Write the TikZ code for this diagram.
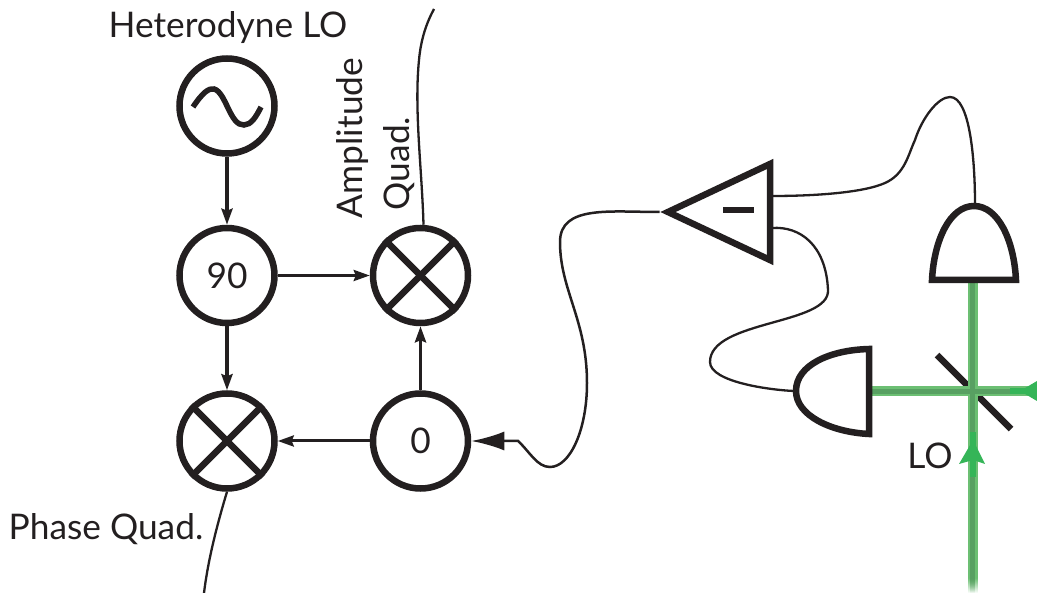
\documentclass[tikz,border=0pt]{standalone}
\usepackage{fontspec}
\setmainfont{Lato}
\usetikzlibrary{shapes.geometric, positioning, arrows.meta, fadings}
\definecolor{ink}{HTML}{231F20}
\definecolor{beamlight}{HTML}{6CBF73}
\definecolor{beamcore}{HTML}{58A062}
\definecolor{beampump}{HTML}{35B558}
\tikzset{
  block/.style={circle, minimum size=95pt, inner sep=0pt, draw=ink, line width=6.5pt, text=ink},
  heavy/.style={draw=ink, line width=6.5pt},
  wire/.style={draw=ink, line width=2.3pt},
  arrow/.style={draw=ink, line width=3.6pt, -{Stealth[length=16pt, width=11pt, inset=2pt]}},
  bigarrow/.style={draw=ink, line width=2.5pt, -{Latex[length=33pt, width=19pt]}},
  label/.style={text=ink, inner sep=0pt}
}
\begin{document}
\begin{tikzpicture}[
        x=1pt, y=-1pt,
        node distance=68pt and 92pt,
        every node/.style={font=\fontsize{35.3}{47}\selectfont}
    ]
        \useasboundingbox (0,0) rectangle (1037,593);

        \node (osc) [block] at (227,106) {};
        \node (ninety) [block, below=of osc] {90};
        \node (phasemix) [block, below=64pt of ninety] {};
        \node (ampmix) [block, right=of ninety] {};
        \node (zero) [block, right=of phasemix] {0};
        \node (title) [label] at (228,28) {Heterodyne LO};
        \node (ampquad) [label, rotate=90, align=left] at (376,138) {Amplitude\\\hspace*{8pt}Quad.};
        \node (phasequad) [label] at (106,529) {Phase Quad.};
        \node (lo) [label] at (930,456) {LO};

        % sine and crosses
        \draw [heavy, line width=5.5pt] (193,107) .. controls (203,92) and (209,88) .. (214,89) .. controls (226,92) and (230,126) .. (244,125) .. controls (251,125) and (256,117) .. (261,107);
        \draw [heavy] (ampmix.45) -- (ampmix.225);
        \draw [heavy] (ampmix.135) -- (ampmix.315);
        \draw [heavy] (phasemix.45) -- (phasemix.225);
        \draw [heavy] (phasemix.135) -- (phasemix.315);

        \draw [arrow] (osc) -- (ninety);
        \draw [arrow, line width=3pt] (ninety) -- (ampmix);
        \draw [arrow] (ninety) -- (phasemix);
        \draw [arrow] (zero) -- (ampmix);
        \draw [arrow, line width=3pt] (zero) -- (phasemix);

        % free ends of the two outputs
        \coordinate (ampend) at (434,9);
        \coordinate (phaseend) at (204,593);
        \draw [wire] (ampmix.north) ++(3,0) .. controls (422,170) and (414,110) .. (419,60) .. controls (421,38) and (427,22) .. (ampend);
        \draw [wire] (phasemix.south) .. controls (217,525) and (208,560) .. (phaseend);

        % amplifier
        \node (amp) [isosceles triangle, shape border rotate=180, isosceles triangle stretches, minimum height=102pt, minimum width=96pt, inner sep=0pt, draw=ink, line width=6.5pt, anchor=apex] at (659.5,212) {};
        \node (minus) [fill=ink, minimum width=31pt, minimum height=6pt, inner sep=0pt, font=\tiny] at (738.5,210) {};
        \coordinate (ampin1) at (772,196);
        \coordinate (ampin2) at (772,228);

        % beams
        \draw [heavy] (937,355) -- (1011,429);
        \fill [beamlight] (872,386) rectangle (1037,396);
        \fill [beamlight] (968,283) rectangle (978,578);
        \fill [beamcore] (872,389) rectangle (1037,394);
        \fill [beamcore] (970,283) rectangle (975,578);
        \fill [beamlight, path fading=south] (968,578) rectangle (978,593);
        \fill [beamcore, path fading=south] (970,578) rectangle (975,593);
        \fill [beampump] (1010,388) rectangle (1037,394);
        \fill [beampump] (1020,391) -- (1037,381) -- (1037,401) -- cycle;
        \fill [beampump] (970,432) rectangle (976,477);
        \fill [beampump] (973,440) -- (985,464) -- (973,460) -- (959,464) -- cycle;

        % detectors
        \coordinate (dettop) at (975,204);
        \coordinate (detleft) at (794,391);
        \draw [heavy, fill=white, line join=miter] (932,280) .. controls (934,240) and (950,206) .. (974,206) .. controls (998,206) and (1014,240) .. (1016,280) -- cycle;
        \draw [heavy, fill=white, line join=miter] (869,349) .. controls (830,350) and (796,365) .. (796,391) .. controls (796,415) and (830,432) .. (869,434) -- cycle;

        % detector and loop wires
        \draw [wire] (ampin1) .. controls (820,196) and (865,192) .. (885,183) .. controls (905,174) and (908,155) .. (915,140) .. controls (922,118) and (938,97) .. (950,97) .. controls (970,97) and (975,160) .. (dettop);
        \draw [wire] (ampin2) .. controls (800,226) and (826,245) .. (828,290) .. controls (830,325) and (710,320) .. (710,362) .. controls (710,382) and (770,390) .. (detleft);
        \draw [bigarrow] (amp.apex) .. controls (610,212) and (560,205) .. (560,242) .. controls (560,290) and (587,320) .. (587,383) .. controls (587,430) and (570,467) .. (550,467) .. controls (537,467) and (530,452) .. (518,441) -- (zero);
    \end{tikzpicture}
\end{document}
